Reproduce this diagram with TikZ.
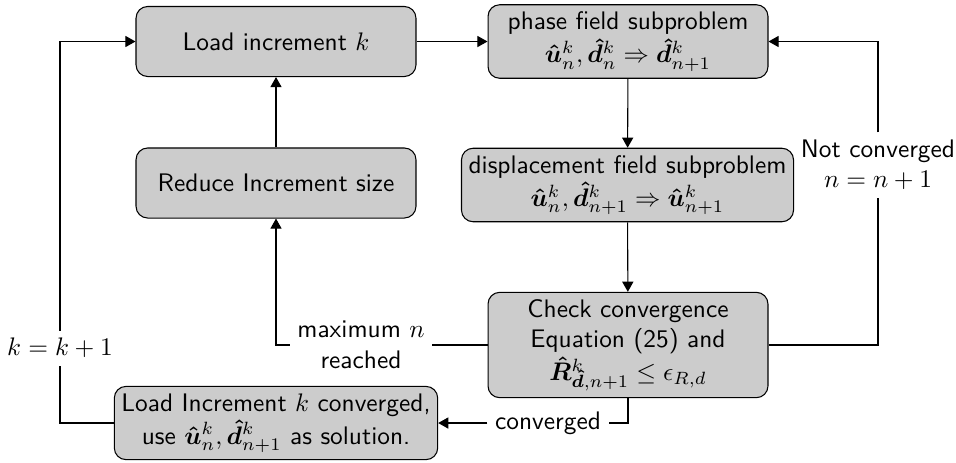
\documentclass[tikz,border=0pt]{standalone}
\usepackage{amsmath,amssymb}
\usetikzlibrary{arrows.meta}
\newcommand{\bhat}[1]{{\smash{\boldsymbol{\hat{#1}}}}}
\begin{document}
\begin{tikzpicture}[x=0.394pt,y=-0.394pt,
  box/.style={draw=black, fill=black!20, rounded corners=4.6pt, align=center,
    minimum width=110.3pt, minimum height=27.6pt, inner sep=2.8pt, font=\sffamily},
  lab/.style={align=center, font=\sffamily, inner sep=2.8pt},
  arr/.style={-{Triangle[length=4pt,width=4.4pt]}},
  line width=0.42pt]
\useasboundingbox (0,0) rectangle (956,462);
\node[box] (load) at (276,41.5) {Load increment $k$};
\node[box] (phase) at (628,41.5) {phase field subproblem\\[1pt]
  $\bhat{u}_n^k, \bhat{d}_n^k \Rightarrow \bhat{d}_{n+1}^k$};
\node[box] (reduce) at (276,183) {Reduce Increment size};
\node[box] (disp) at (627.5,185) {displacement field subproblem\\[1pt]
  $\bhat{u}_n^k, \bhat{d}_{n+1}^k \Rightarrow \bhat{u}_{n+1}^k$};
\node[box] (check) at (628,345) {Check convergence\\Equation (25) and\\[1pt]
  $\bhat{R}^k_{\bhat{d},n+1} \leq \epsilon_{R,d}$};
\node[box, minimum width=0pt] (final) at (276,423) {Load Increment $k$ converged,\\[1pt]
  use $\bhat{u}_n^k, \bhat{d}_{n+1}^k$ as solution.};
\node[lab] (nc) at (878,165) {Not converged\\$n=n+1$};
\node[lab] (mx) at (361,345) {maximum $n$\\reached};
\node[lab] (conv) at (548,423) {converged};
\node[lab] (kk) at (60,348) {$k=k+1$};
\draw[arr] (load) -- (phase);
\draw[arr] (phase) -- (disp);
\draw[arr] (disp) -- (check);
\draw[arr] (reduce) -- (load);
\draw (check.east) -| (nc.south);
\draw[arr] (nc.north) |- (phase.east);
\draw (check.west) -- (mx.east |- check.west);
\draw[arr] (mx.west |- check.west) -| (reduce.south);
\draw (check.south) |- (conv.east);
\draw[arr] (conv.west) -- (final.east);
\draw (final.west) -| (kk.south);
\draw[arr] (kk.north) |- (load.west);
\end{tikzpicture}
\end{document}
